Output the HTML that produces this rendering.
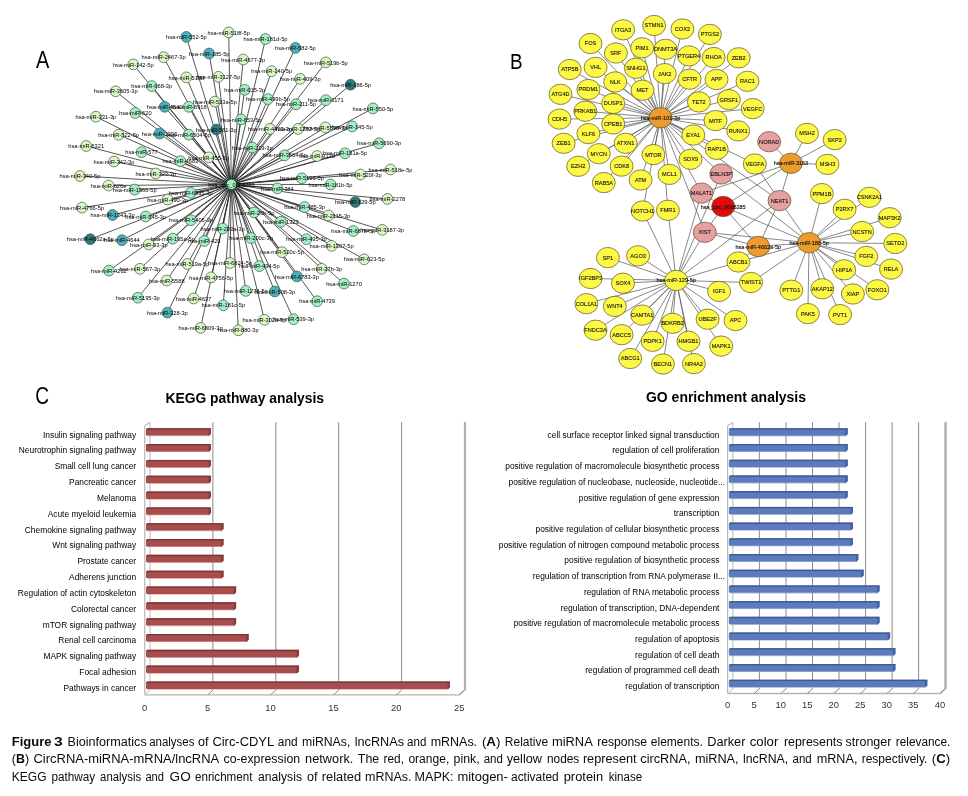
<!DOCTYPE html><html><head><meta charset="utf-8"><title>Figure 3</title><style>
html,body{margin:0;padding:0;background:#fff;width:968px;height:796px;overflow:hidden}
svg{display:block;font-family:"Liberation Sans",sans-serif;will-change:transform}
.ea line{stroke:#2a2a2a;stroke-width:.8}
.na circle{stroke:#3e5646;stroke-width:.7}
.la text{font-size:5.7px;fill:#000;text-anchor:middle}
.eb line{stroke:#555;stroke-width:.7}
.nb ellipse{stroke:#5a5228;stroke-width:.7}
.lb text{font-size:5.6px;fill:#111;stroke:#111;stroke-width:.1;text-anchor:middle}
.hl text{font-size:5.5px;fill:#111;stroke:#111;stroke-width:.12;text-anchor:middle}
.kl text,.gl text{font-size:8.4px;fill:#000;text-anchor:end}
.tk text{font-size:9.4px;fill:#333;text-anchor:middle}
.cap text{font-size:12.3px;fill:#0a0a0a}
</style></head><body>
<svg width="968" height="796" viewBox="0 0 968 796">
<rect width="968" height="796" fill="#fff"/>
<text transform="translate(35.9 68.4) scale(0.845 1)" font-size="23.6" fill="#000">A</text>
<text transform="translate(510.1 69.35) scale(0.825 1)" font-size="22.9" fill="#000">B</text>
<text transform="translate(35.3 404.4) scale(0.82 1)" font-size="23.3" fill="#000">C</text>
<g class="ea">
<line x1="231.4" y1="184.4" x2="186.4" y2="36.9"/>
<line x1="231.4" y1="184.4" x2="228.7" y2="32.4"/>
<line x1="231.4" y1="184.4" x2="209.1" y2="53.5"/>
<line x1="231.4" y1="184.4" x2="163.6" y2="57.2"/>
<line x1="231.4" y1="184.4" x2="133.3" y2="64.4"/>
<line x1="231.4" y1="184.4" x2="243.2" y2="59.5"/>
<line x1="231.4" y1="184.4" x2="186.4" y2="77.4"/>
<line x1="231.4" y1="184.4" x2="218.4" y2="76.8"/>
<line x1="231.4" y1="184.4" x2="151.7" y2="86.1"/>
<line x1="231.4" y1="184.4" x2="115.7" y2="91.3"/>
<line x1="231.4" y1="184.4" x2="244.7" y2="89.8"/>
<line x1="231.4" y1="184.4" x2="214.9" y2="101.6"/>
<line x1="231.4" y1="184.4" x2="164.7" y2="106.8"/>
<line x1="231.4" y1="184.4" x2="188.8" y2="106.8"/>
<line x1="231.4" y1="184.4" x2="135.3" y2="113"/>
<line x1="231.4" y1="184.4" x2="95.9" y2="116.7"/>
<line x1="231.4" y1="184.4" x2="241.1" y2="119.4"/>
<line x1="231.4" y1="184.4" x2="216.3" y2="129.5"/>
<line x1="231.4" y1="184.4" x2="118.6" y2="134.7"/>
<line x1="231.4" y1="184.4" x2="159.5" y2="133.6"/>
<line x1="231.4" y1="184.4" x2="188.8" y2="134.7"/>
<line x1="231.4" y1="184.4" x2="86.2" y2="146"/>
<line x1="231.4" y1="184.4" x2="141.5" y2="152.2"/>
<line x1="231.4" y1="184.4" x2="208.7" y2="157.4"/>
<line x1="231.4" y1="184.4" x2="114" y2="161.5"/>
<line x1="231.4" y1="184.4" x2="180.4" y2="161.2"/>
<line x1="231.4" y1="184.4" x2="80" y2="176"/>
<line x1="231.4" y1="184.4" x2="155.8" y2="173.5"/>
<line x1="231.4" y1="184.4" x2="265.5" y2="39"/>
<line x1="231.4" y1="184.4" x2="295.4" y2="47.9"/>
<line x1="231.4" y1="184.4" x2="325.8" y2="62.4"/>
<line x1="231.4" y1="184.4" x2="271.7" y2="71.2"/>
<line x1="231.4" y1="184.4" x2="300.2" y2="78.9"/>
<line x1="231.4" y1="184.4" x2="350.6" y2="84.7"/>
<line x1="231.4" y1="184.4" x2="267.9" y2="99.1"/>
<line x1="231.4" y1="184.4" x2="296" y2="104.3"/>
<line x1="231.4" y1="184.4" x2="325.8" y2="100.2"/>
<line x1="231.4" y1="184.4" x2="372.9" y2="108.4"/>
<line x1="231.4" y1="184.4" x2="270" y2="128.9"/>
<line x1="231.4" y1="184.4" x2="298.1" y2="128.9"/>
<line x1="231.4" y1="184.4" x2="325.4" y2="127.4"/>
<line x1="231.4" y1="184.4" x2="352.2" y2="126.4"/>
<line x1="231.4" y1="184.4" x2="379.1" y2="143.3"/>
<line x1="231.4" y1="184.4" x2="252.3" y2="147.5"/>
<line x1="231.4" y1="184.4" x2="284.6" y2="155.3"/>
<line x1="231.4" y1="184.4" x2="317.1" y2="156"/>
<line x1="231.4" y1="184.4" x2="345" y2="153.3"/>
<line x1="231.4" y1="184.4" x2="390.5" y2="169.5"/>
<line x1="231.4" y1="184.4" x2="360.5" y2="174.5"/>
<line x1="231.4" y1="184.4" x2="301.9" y2="178.3"/>
<line x1="231.4" y1="184.4" x2="108.5" y2="185.5"/>
<line x1="231.4" y1="184.4" x2="134.7" y2="189.6"/>
<line x1="231.4" y1="184.4" x2="190.8" y2="192.8"/>
<line x1="231.4" y1="184.4" x2="167.6" y2="199.5"/>
<line x1="231.4" y1="184.4" x2="82" y2="207.6"/>
<line x1="231.4" y1="184.4" x2="112.6" y2="215"/>
<line x1="231.4" y1="184.4" x2="145.7" y2="216.5"/>
<line x1="231.4" y1="184.4" x2="191" y2="220.2"/>
<line x1="231.4" y1="184.4" x2="222.6" y2="228.6"/>
<line x1="231.4" y1="184.4" x2="90.3" y2="239.2"/>
<line x1="231.4" y1="184.4" x2="121.9" y2="240.2"/>
<line x1="231.4" y1="184.4" x2="148.8" y2="244.4"/>
<line x1="231.4" y1="184.4" x2="172.9" y2="238.6"/>
<line x1="231.4" y1="184.4" x2="204.2" y2="241"/>
<line x1="231.4" y1="184.4" x2="108.9" y2="270.6"/>
<line x1="231.4" y1="184.4" x2="139.9" y2="268.8"/>
<line x1="231.4" y1="184.4" x2="187.4" y2="264"/>
<line x1="231.4" y1="184.4" x2="230" y2="263"/>
<line x1="231.4" y1="184.4" x2="166.7" y2="280.5"/>
<line x1="231.4" y1="184.4" x2="211.2" y2="277.4"/>
<line x1="231.4" y1="184.4" x2="137.8" y2="297.7"/>
<line x1="231.4" y1="184.4" x2="193.6" y2="298.5"/>
<line x1="231.4" y1="184.4" x2="245.8" y2="290.9"/>
<line x1="231.4" y1="184.4" x2="167.4" y2="312.6"/>
<line x1="231.4" y1="184.4" x2="223.3" y2="305.3"/>
<line x1="231.4" y1="184.4" x2="200.6" y2="327.9"/>
<line x1="231.4" y1="184.4" x2="238.3" y2="330.3"/>
<line x1="231.4" y1="184.4" x2="330.5" y2="184.5"/>
<line x1="231.4" y1="184.4" x2="277.4" y2="188.4"/>
<line x1="231.4" y1="184.4" x2="355.3" y2="202"/>
<line x1="231.4" y1="184.4" x2="387.4" y2="198.9"/>
<line x1="231.4" y1="184.4" x2="304.6" y2="207.1"/>
<line x1="231.4" y1="184.4" x2="328.5" y2="215.5"/>
<line x1="231.4" y1="184.4" x2="254.1" y2="212.4"/>
<line x1="231.4" y1="184.4" x2="280.8" y2="221.8"/>
<line x1="231.4" y1="184.4" x2="353.3" y2="231"/>
<line x1="231.4" y1="184.4" x2="382.2" y2="229.9"/>
<line x1="231.4" y1="184.4" x2="251" y2="238"/>
<line x1="231.4" y1="184.4" x2="306.4" y2="239.2"/>
<line x1="231.4" y1="184.4" x2="331.6" y2="245.8"/>
<line x1="231.4" y1="184.4" x2="282" y2="252.2"/>
<line x1="231.4" y1="184.4" x2="364.2" y2="259.3"/>
<line x1="231.4" y1="184.4" x2="259.3" y2="266.1"/>
<line x1="231.4" y1="184.4" x2="321.7" y2="268.8"/>
<line x1="231.4" y1="184.4" x2="296.9" y2="276.4"/>
<line x1="231.4" y1="184.4" x2="344" y2="283.6"/>
<line x1="231.4" y1="184.4" x2="274.8" y2="291.5"/>
<line x1="231.4" y1="184.4" x2="317.1" y2="301.2"/>
<line x1="231.4" y1="184.4" x2="264.4" y2="319.8"/>
<line x1="231.4" y1="184.4" x2="293.6" y2="319.2"/>
</g>
<g class="na">
<circle cx="186.4" cy="36.9" r="5.4" fill="#4eb0bd"/>
<circle cx="228.7" cy="32.4" r="5.4" fill="#dbf7c5"/>
<circle cx="209.1" cy="53.5" r="5.4" fill="#4eb0bd"/>
<circle cx="163.6" cy="57.2" r="5.4" fill="#dbf7c5"/>
<circle cx="133.3" cy="64.4" r="5.4" fill="#dbf7c5"/>
<circle cx="243.2" cy="59.5" r="5.4" fill="#dbf7c5"/>
<circle cx="186.4" cy="77.4" r="5.4" fill="#dbf7c5"/>
<circle cx="218.4" cy="76.8" r="5.4" fill="#dbf7c5"/>
<circle cx="151.7" cy="86.1" r="5.4" fill="#a4efc3"/>
<circle cx="115.7" cy="91.3" r="5.4" fill="#dbf7c5"/>
<circle cx="244.7" cy="89.8" r="5.4" fill="#a4efc3"/>
<circle cx="214.9" cy="101.6" r="5.4" fill="#dbf7c5"/>
<circle cx="164.7" cy="106.8" r="5.4" fill="#4eb0bd"/>
<circle cx="188.8" cy="106.8" r="5.4" fill="#a4efc3"/>
<circle cx="135.3" cy="113" r="5.4" fill="#a4efc3"/>
<circle cx="95.9" cy="116.7" r="5.4" fill="#dbf7c5"/>
<circle cx="241.1" cy="119.4" r="5.4" fill="#a4efc3"/>
<circle cx="216.3" cy="129.5" r="5.4" fill="#2d797b"/>
<circle cx="118.6" cy="134.7" r="5.4" fill="#dbf7c5"/>
<circle cx="159.5" cy="133.6" r="5.4" fill="#4eb0bd"/>
<circle cx="188.8" cy="134.7" r="5.4" fill="#a4efc3"/>
<circle cx="86.2" cy="146" r="5.4" fill="#dbf7c5"/>
<circle cx="141.5" cy="152.2" r="5.4" fill="#a4efc3"/>
<circle cx="208.7" cy="157.4" r="5.4" fill="#dbf7c5"/>
<circle cx="114" cy="161.5" r="5.4" fill="#dbf7c5"/>
<circle cx="180.4" cy="161.2" r="5.4" fill="#a4efc3"/>
<circle cx="80" cy="176" r="5.4" fill="#dbf7c5"/>
<circle cx="155.8" cy="173.5" r="5.4" fill="#dbf7c5"/>
<circle cx="265.5" cy="39" r="5.4" fill="#a4efc3"/>
<circle cx="295.4" cy="47.9" r="5.4" fill="#4eb0bd"/>
<circle cx="325.8" cy="62.4" r="5.4" fill="#dbf7c5"/>
<circle cx="271.7" cy="71.2" r="5.4" fill="#dbf7c5"/>
<circle cx="300.2" cy="78.9" r="5.4" fill="#dbf7c5"/>
<circle cx="350.6" cy="84.7" r="5.4" fill="#2d797b"/>
<circle cx="267.9" cy="99.1" r="5.4" fill="#a4efc3"/>
<circle cx="296" cy="104.3" r="5.4" fill="#a4efc3"/>
<circle cx="325.8" cy="100.2" r="5.4" fill="#a4efc3"/>
<circle cx="372.9" cy="108.4" r="5.4" fill="#a4efc3"/>
<circle cx="270" cy="128.9" r="5.4" fill="#dbf7c5"/>
<circle cx="298.1" cy="128.9" r="5.4" fill="#dbf7c5"/>
<circle cx="325.4" cy="127.4" r="5.4" fill="#dbf7c5"/>
<circle cx="352.2" cy="126.4" r="5.4" fill="#a4efc3"/>
<circle cx="379.1" cy="143.3" r="5.4" fill="#a4efc3"/>
<circle cx="252.3" cy="147.5" r="5.4" fill="#a4efc3"/>
<circle cx="284.6" cy="155.3" r="5.4" fill="#a4efc3"/>
<circle cx="317.1" cy="156" r="5.4" fill="#dbf7c5"/>
<circle cx="345" cy="153.3" r="5.4" fill="#a4efc3"/>
<circle cx="390.5" cy="169.5" r="5.4" fill="#dbf7c5"/>
<circle cx="360.5" cy="174.5" r="5.4" fill="#dbf7c5"/>
<circle cx="301.9" cy="178.3" r="5.4" fill="#a4efc3"/>
<circle cx="108.5" cy="185.5" r="5.4" fill="#dbf7c5"/>
<circle cx="134.7" cy="189.6" r="5.4" fill="#a4efc3"/>
<circle cx="190.8" cy="192.8" r="5.4" fill="#a4efc3"/>
<circle cx="167.6" cy="199.5" r="5.4" fill="#dbf7c5"/>
<circle cx="82" cy="207.6" r="5.4" fill="#dbf7c5"/>
<circle cx="112.6" cy="215" r="5.4" fill="#4eb0bd"/>
<circle cx="145.7" cy="216.5" r="5.4" fill="#a4efc3"/>
<circle cx="191" cy="220.2" r="5.4" fill="#a4efc3"/>
<circle cx="222.6" cy="228.6" r="5.4" fill="#a4efc3"/>
<circle cx="90.3" cy="239.2" r="5.4" fill="#2d797b"/>
<circle cx="121.9" cy="240.2" r="5.4" fill="#4eb0bd"/>
<circle cx="148.8" cy="244.4" r="5.4" fill="#dbf7c5"/>
<circle cx="172.9" cy="238.6" r="5.4" fill="#a4efc3"/>
<circle cx="204.2" cy="241" r="5.4" fill="#a4efc3"/>
<circle cx="108.9" cy="270.6" r="5.4" fill="#a4efc3"/>
<circle cx="139.9" cy="268.8" r="5.4" fill="#dbf7c5"/>
<circle cx="187.4" cy="264" r="5.4" fill="#dbf7c5"/>
<circle cx="230" cy="263" r="5.4" fill="#dbf7c5"/>
<circle cx="166.7" cy="280.5" r="5.4" fill="#dbf7c5"/>
<circle cx="211.2" cy="277.4" r="5.4" fill="#dbf7c5"/>
<circle cx="137.8" cy="297.7" r="5.4" fill="#a4efc3"/>
<circle cx="193.6" cy="298.5" r="5.4" fill="#dbf7c5"/>
<circle cx="245.8" cy="290.9" r="5.4" fill="#a4efc3"/>
<circle cx="167.4" cy="312.6" r="5.4" fill="#4eb0bd"/>
<circle cx="223.3" cy="305.3" r="5.4" fill="#a4efc3"/>
<circle cx="200.6" cy="327.9" r="5.4" fill="#dbf7c5"/>
<circle cx="238.3" cy="330.3" r="5.4" fill="#dbf7c5"/>
<circle cx="330.5" cy="184.5" r="5.4" fill="#a4efc3"/>
<circle cx="277.4" cy="188.4" r="5.4" fill="#a4efc3"/>
<circle cx="355.3" cy="202" r="5.4" fill="#2d797b"/>
<circle cx="387.4" cy="198.9" r="5.4" fill="#dbf7c5"/>
<circle cx="304.6" cy="207.1" r="5.4" fill="#a4efc3"/>
<circle cx="328.5" cy="215.5" r="5.4" fill="#dbf7c5"/>
<circle cx="254.1" cy="212.4" r="5.4" fill="#a4efc3"/>
<circle cx="280.8" cy="221.8" r="5.4" fill="#a4efc3"/>
<circle cx="353.3" cy="231" r="5.4" fill="#a4efc3"/>
<circle cx="382.2" cy="229.9" r="5.4" fill="#dbf7c5"/>
<circle cx="251" cy="238" r="5.4" fill="#a4efc3"/>
<circle cx="306.4" cy="239.2" r="5.4" fill="#a4efc3"/>
<circle cx="331.6" cy="245.8" r="5.4" fill="#dbf7c5"/>
<circle cx="282" cy="252.2" r="5.4" fill="#dbf7c5"/>
<circle cx="364.2" cy="259.3" r="5.4" fill="#dbf7c5"/>
<circle cx="259.3" cy="266.1" r="5.4" fill="#a4efc3"/>
<circle cx="321.7" cy="268.8" r="5.4" fill="#dbf7c5"/>
<circle cx="296.9" cy="276.4" r="5.4" fill="#4eb0bd"/>
<circle cx="344" cy="283.6" r="5.4" fill="#a4efc3"/>
<circle cx="274.8" cy="291.5" r="5.4" fill="#4eb0bd"/>
<circle cx="317.1" cy="301.2" r="5.4" fill="#a4efc3"/>
<circle cx="264.4" cy="319.8" r="5.4" fill="#dbf7c5"/>
<circle cx="293.6" cy="319.2" r="5.4" fill="#a4efc3"/>
<circle cx="231.4" cy="184.4" r="5.4" fill="#a4efc3" style="stroke:#1d5a30;stroke-width:1.1"/>
</g>
<g class="la">
<text x="186.4" y="39">hsa-miR-552-5p</text>
<text x="228.7" y="34.5">hsa-miR-518f-5p</text>
<text x="209.1" y="55.6">hsa-miR-185-5p</text>
<text x="163.6" y="59.3">hsa-miR-2467-3p</text>
<text x="133.3" y="66.5">hsa-miR-142-5p</text>
<text x="243.2" y="61.6">hsa-miR-4677-3p</text>
<text x="186.4" y="79.5">hsa-miR-5188</text>
<text x="218.4" y="78.9">hsa-miR-3127-5p</text>
<text x="151.7" y="88.2">hsa-miR-668-3p</text>
<text x="115.7" y="93.4">hsa-miR-3605-3p</text>
<text x="244.7" y="91.9">hsa-miR-615-3p</text>
<text x="214.9" y="103.7">hsa-miR-513a-5p</text>
<text x="164.7" y="108.9">hsa-miR-4540</text>
<text x="188.8" y="108.9">hsa-miR-6918</text>
<text x="135.3" y="115.1">hsa-miR-620</text>
<text x="95.9" y="118.8">hsa-miR-331-3p</text>
<text x="241.1" y="121.5">hsa-miR-653-5p</text>
<text x="216.3" y="131.6">hsa-miR-561-3p</text>
<text x="118.6" y="136.8">hsa-miR-522-5p</text>
<text x="159.5" y="135.7">hsa-miR-1296</text>
<text x="188.8" y="136.8">hsa-miR-6504-5p</text>
<text x="86.2" y="148.1">hsa-miR-6321</text>
<text x="141.5" y="154.3">hsa-miR-577</text>
<text x="208.7" y="159.5">hsa-miR-455-5p</text>
<text x="114" y="163.6">hsa-miR-342-3p</text>
<text x="180.4" y="163.3">hsa-miR-4683</text>
<text x="80" y="178.1">hsa-miR-340-5p</text>
<text x="155.8" y="175.6">hsa-miR-323-3p</text>
<text x="265.5" y="41.1">hsa-miR-181d-5p</text>
<text x="295.4" y="50">hsa-miR-582-5p</text>
<text x="325.8" y="64.5">hsa-miR-519b-5p</text>
<text x="271.7" y="73.3">hsa-miR-140-5p</text>
<text x="300.2" y="81">hsa-miR-409-3p</text>
<text x="350.6" y="86.8">hsa-miR-186-5p</text>
<text x="267.9" y="101.2">hsa-miR-499b-5p</text>
<text x="296" y="106.4">hsa-miR-211-5p</text>
<text x="325.8" y="102.3">hsa-miR-3171</text>
<text x="372.9" y="110.5">hsa-miR-550-5p</text>
<text x="270" y="131">hsa-miR-4423-3p</text>
<text x="298.1" y="131">hsa-miR-1252-5p</text>
<text x="325.4" y="129.5">hsa-miR-5590-3p</text>
<text x="352.2" y="128.5">hsa-miR-145-5p</text>
<text x="379.1" y="145.4">hsa-miR-5690-3p</text>
<text x="252.3" y="149.6">hsa-miR-219-3p</text>
<text x="284.6" y="157.4">hsa-miR-3664-5p</text>
<text x="317.1" y="158.1">hsa-miR-3120</text>
<text x="345" y="155.4">hsa-miR-181a-5p</text>
<text x="390.5" y="171.6">hsa-miR-518e-5p</text>
<text x="360.5" y="176.6">hsa-miR-520f-3p</text>
<text x="301.9" y="180.4">hsa-miR-5196-5p</text>
<text x="108.5" y="187.6">hsa-miR-626e</text>
<text x="134.7" y="191.7">hsa-miR-1966-5p</text>
<text x="190.8" y="194.9">hsa-miR-6835-3p</text>
<text x="167.6" y="201.6">hsa-miR-490-3p</text>
<text x="82" y="209.7">hsa-miR-4766-5p</text>
<text x="112.6" y="217.1">hsa-miR-1343-3p</text>
<text x="145.7" y="218.6">hsa-miR-545-3p</text>
<text x="191" y="222.3">hsa-miR-5406-3p</text>
<text x="222.6" y="230.7">hsa-miR-203a-3p</text>
<text x="90.3" y="241.3">hsa-miR-4662a-5p</text>
<text x="121.9" y="242.3">hsa-miR-4644</text>
<text x="148.8" y="246.5">hsa-miR-93-3p</text>
<text x="172.9" y="240.7">hsa-miR-195a-5p</text>
<text x="204.2" y="243.1">hsa-miR-429</text>
<text x="108.9" y="272.7">hsa-miR-4262</text>
<text x="139.9" y="270.9">hsa-miR-567-3p</text>
<text x="187.4" y="266.1">hsa-miR-519a-5p</text>
<text x="230" y="265.1">hsa-miR-6824-5p</text>
<text x="166.7" y="282.6">hsa-miR-5588</text>
<text x="211.2" y="279.5">hsa-miR-4756-5p</text>
<text x="137.8" y="299.8">hsa-miR-5195-3p</text>
<text x="193.6" y="300.6">hsa-miR-4637</text>
<text x="245.8" y="293">hsa-miR-1278-5p</text>
<text x="167.4" y="314.7">hsa-miR-328-3p</text>
<text x="223.3" y="307.4">hsa-miR-181c-5p</text>
<text x="200.6" y="330">hsa-miR-6809-3p</text>
<text x="238.3" y="332.4">hsa-miR-880-3p</text>
<text x="330.5" y="186.6">hsa-miR-181b-5p</text>
<text x="277.4" y="190.5">hsa-miR-384</text>
<text x="355.3" y="204.1">hsa-miR-129-5p</text>
<text x="387.4" y="201">hsa-miR-2278</text>
<text x="304.6" y="209.2">hsa-miR-485-3p</text>
<text x="328.5" y="217.6">hsa-miR-2115-3p</text>
<text x="254.1" y="214.5">hsa-miR-26b-5p</text>
<text x="280.8" y="223.9">hsa-miR-1323</text>
<text x="353.3" y="233.1">hsa-miR-6878-5p</text>
<text x="382.2" y="232">hsa-miR-3187-3p</text>
<text x="251" y="240.1">hsa-miR-200c-3p</text>
<text x="306.4" y="241.3">hsa-miR-495-3p</text>
<text x="331.6" y="247.9">hsa-miR-1307-5p</text>
<text x="282" y="254.3">hsa-miR-520c-5p</text>
<text x="364.2" y="261.4">hsa-miR-623-5p</text>
<text x="259.3" y="268.2">hsa-miR-494-5p</text>
<text x="321.7" y="270.9">hsa-miR-27b-3p</text>
<text x="296.9" y="278.5">hsa-miR-6783-3p</text>
<text x="344" y="285.7">hsa-miR-1270</text>
<text x="274.8" y="293.6">hsa-miR-508-3p</text>
<text x="317.1" y="303.3">hsa-miR-4739</text>
<text x="264.4" y="321.9">hsa-miR-302a-3p</text>
<text x="293.6" y="321.3">hsa-miR-539-3p</text>
<text x="231.4" y="186.5">hsa_circ_0008285</text>
</g>
<g class="eb">
<line x1="660.5" y1="117.8" x2="623.1" y2="29.8"/>
<line x1="660.5" y1="117.8" x2="654.1" y2="25.5"/>
<line x1="660.5" y1="117.8" x2="682.4" y2="29"/>
<line x1="660.5" y1="117.8" x2="709.9" y2="34.4"/>
<line x1="660.5" y1="117.8" x2="590.5" y2="43.5"/>
<line x1="660.5" y1="117.8" x2="615.9" y2="53"/>
<line x1="660.5" y1="117.8" x2="642.1" y2="47.8"/>
<line x1="660.5" y1="117.8" x2="665.5" y2="49.3"/>
<line x1="660.5" y1="117.8" x2="689" y2="55.9"/>
<line x1="660.5" y1="117.8" x2="713.7" y2="57.5"/>
<line x1="660.5" y1="117.8" x2="738.7" y2="57.8"/>
<line x1="660.5" y1="117.8" x2="569.8" y2="69.5"/>
<line x1="660.5" y1="117.8" x2="595.6" y2="67.4"/>
<line x1="660.5" y1="117.8" x2="635.9" y2="68.3"/>
<line x1="660.5" y1="117.8" x2="664.8" y2="73.6"/>
<line x1="660.5" y1="117.8" x2="689.6" y2="79.2"/>
<line x1="660.5" y1="117.8" x2="716.5" y2="79.5"/>
<line x1="660.5" y1="117.8" x2="747.5" y2="81.3"/>
<line x1="660.5" y1="117.8" x2="615.2" y2="81.9"/>
<line x1="660.5" y1="117.8" x2="642.5" y2="90.2"/>
<line x1="660.5" y1="117.8" x2="560.5" y2="94.3"/>
<line x1="660.5" y1="117.8" x2="588.4" y2="89.5"/>
<line x1="660.5" y1="117.8" x2="613.2" y2="103.4"/>
<line x1="660.5" y1="117.8" x2="698.9" y2="101.9"/>
<line x1="660.5" y1="117.8" x2="728.9" y2="99.6"/>
<line x1="660.5" y1="117.8" x2="752.7" y2="108.6"/>
<line x1="660.5" y1="117.8" x2="585.3" y2="111.2"/>
<line x1="660.5" y1="117.8" x2="559.5" y2="119.1"/>
<line x1="660.5" y1="117.8" x2="613.2" y2="124"/>
<line x1="660.5" y1="117.8" x2="715.5" y2="120.6"/>
<line x1="660.5" y1="117.8" x2="738.2" y2="130.9"/>
<line x1="660.5" y1="117.8" x2="588.4" y2="133.6"/>
<line x1="660.5" y1="117.8" x2="563.6" y2="143.3"/>
<line x1="660.5" y1="117.8" x2="625.6" y2="143.3"/>
<line x1="660.5" y1="117.8" x2="693.3" y2="135"/>
<line x1="660.5" y1="117.8" x2="716.7" y2="149.3"/>
<line x1="660.5" y1="117.8" x2="598.8" y2="153.7"/>
<line x1="660.5" y1="117.8" x2="653.4" y2="154.6"/>
<line x1="660.5" y1="117.8" x2="690.6" y2="159.3"/>
<line x1="660.5" y1="117.8" x2="578.2" y2="166.3"/>
<line x1="660.5" y1="117.8" x2="621.6" y2="166.1"/>
<line x1="660.5" y1="117.8" x2="603.8" y2="182.6"/>
<line x1="660.5" y1="117.8" x2="640.6" y2="180"/>
<line x1="660.5" y1="117.8" x2="669.5" y2="174.4"/>
<line x1="660.5" y1="117.8" x2="642.6" y2="211"/>
<line x1="660.5" y1="117.8" x2="667.9" y2="210.3"/>
<line x1="660.5" y1="117.8" x2="701.5" y2="193.1"/>
<line x1="660.5" y1="117.8" x2="704.8" y2="232.3"/>
<line x1="660.5" y1="117.8" x2="721.3" y2="174"/>
<line x1="660.5" y1="117.8" x2="779.5" y2="200.6"/>
<line x1="660.5" y1="117.8" x2="754.8" y2="164"/>
<line x1="676.2" y1="280.4" x2="607.9" y2="257.6"/>
<line x1="676.2" y1="280.4" x2="638.1" y2="255.8"/>
<line x1="676.2" y1="280.4" x2="590.6" y2="278.5"/>
<line x1="676.2" y1="280.4" x2="623" y2="283.2"/>
<line x1="676.2" y1="280.4" x2="586.4" y2="303.7"/>
<line x1="676.2" y1="280.4" x2="614.8" y2="306.4"/>
<line x1="676.2" y1="280.4" x2="642.2" y2="315.1"/>
<line x1="676.2" y1="280.4" x2="595.5" y2="330.2"/>
<line x1="676.2" y1="280.4" x2="621.6" y2="334.7"/>
<line x1="676.2" y1="280.4" x2="652.6" y2="341.3"/>
<line x1="676.2" y1="280.4" x2="672.6" y2="323.3"/>
<line x1="676.2" y1="280.4" x2="688.5" y2="341.3"/>
<line x1="676.2" y1="280.4" x2="662.9" y2="364"/>
<line x1="676.2" y1="280.4" x2="693.9" y2="363.6"/>
<line x1="676.2" y1="280.4" x2="630.2" y2="358.5"/>
<line x1="676.2" y1="280.4" x2="707.6" y2="319.2"/>
<line x1="676.2" y1="280.4" x2="735.5" y2="320.5"/>
<line x1="676.2" y1="280.4" x2="721.2" y2="346.1"/>
<line x1="676.2" y1="280.4" x2="719.1" y2="291.4"/>
<line x1="676.2" y1="280.4" x2="751" y2="282.5"/>
<line x1="676.2" y1="280.4" x2="738.4" y2="262"/>
<line x1="676.2" y1="280.4" x2="642.6" y2="211"/>
<line x1="676.2" y1="280.4" x2="667.9" y2="210.3"/>
<line x1="676.2" y1="280.4" x2="704.8" y2="232.3"/>
<line x1="676.2" y1="280.4" x2="701.5" y2="193.1"/>
<line x1="676.2" y1="280.4" x2="779.5" y2="200.6"/>
<line x1="676.2" y1="280.4" x2="721.3" y2="174"/>
<line x1="809.1" y1="242.7" x2="821.9" y2="193.6"/>
<line x1="809.1" y1="242.7" x2="869.4" y2="197.3"/>
<line x1="809.1" y1="242.7" x2="844.6" y2="209.3"/>
<line x1="809.1" y1="242.7" x2="889.7" y2="217.7"/>
<line x1="809.1" y1="242.7" x2="862.2" y2="231.6"/>
<line x1="809.1" y1="242.7" x2="895.3" y2="243.5"/>
<line x1="809.1" y1="242.7" x2="866.3" y2="256.4"/>
<line x1="809.1" y1="242.7" x2="891" y2="269.1"/>
<line x1="809.1" y1="242.7" x2="844.2" y2="269.8"/>
<line x1="809.1" y1="242.7" x2="877.3" y2="289.8"/>
<line x1="809.1" y1="242.7" x2="852.9" y2="294"/>
<line x1="809.1" y1="242.7" x2="840.1" y2="314.6"/>
<line x1="809.1" y1="242.7" x2="807.9" y2="313.6"/>
<line x1="809.1" y1="242.7" x2="822.3" y2="288.8"/>
<line x1="809.1" y1="242.7" x2="791.3" y2="290.2"/>
<line x1="809.1" y1="242.7" x2="751" y2="282.5"/>
<line x1="809.1" y1="242.7" x2="738.4" y2="262"/>
<line x1="809.1" y1="242.7" x2="779.5" y2="200.6"/>
<line x1="809.1" y1="242.7" x2="704.8" y2="232.3"/>
<line x1="809.1" y1="242.7" x2="723.2" y2="206.5"/>
<line x1="809.1" y1="242.7" x2="721.3" y2="174"/>
<line x1="809.1" y1="242.7" x2="758.3" y2="246.5"/>
<line x1="790.9" y1="163.3" x2="807" y2="133.4"/>
<line x1="790.9" y1="163.3" x2="834.7" y2="139.6"/>
<line x1="790.9" y1="163.3" x2="827.5" y2="164.4"/>
<line x1="790.9" y1="163.3" x2="769.2" y2="141.7"/>
<line x1="790.9" y1="163.3" x2="779.5" y2="200.6"/>
<line x1="790.9" y1="163.3" x2="701.5" y2="193.1"/>
<line x1="790.9" y1="163.3" x2="723.2" y2="206.5"/>
<line x1="758.3" y1="246.5" x2="704.8" y2="232.3"/>
<line x1="758.3" y1="246.5" x2="723.2" y2="206.5"/>
<line x1="758.3" y1="246.5" x2="779.5" y2="200.6"/>
<line x1="758.3" y1="246.5" x2="738.4" y2="262"/>
<line x1="723.2" y1="206.5" x2="701.5" y2="193.1"/>
<line x1="723.2" y1="206.5" x2="704.8" y2="232.3"/>
<line x1="754.8" y1="164" x2="779.5" y2="200.6"/>
</g>
<g class="nb">
<ellipse cx="623.1" cy="29.8" rx="11.5" ry="10.15" fill="#fdf843" stroke="#5a5228"/>
<ellipse cx="654.1" cy="25.5" rx="11.5" ry="10.15" fill="#fdf843" stroke="#5a5228"/>
<ellipse cx="682.4" cy="29" rx="11.5" ry="10.15" fill="#fdf843" stroke="#5a5228"/>
<ellipse cx="709.9" cy="34.4" rx="11.5" ry="10.15" fill="#fdf843" stroke="#5a5228"/>
<ellipse cx="590.5" cy="43.5" rx="11.5" ry="10.15" fill="#fdf843" stroke="#5a5228"/>
<ellipse cx="615.9" cy="53" rx="11.5" ry="10.15" fill="#fdf843" stroke="#5a5228"/>
<ellipse cx="642.1" cy="47.8" rx="11.5" ry="10.15" fill="#fdf843" stroke="#5a5228"/>
<ellipse cx="665.5" cy="49.3" rx="11.5" ry="10.15" fill="#fdf843" stroke="#5a5228"/>
<ellipse cx="689" cy="55.9" rx="11.5" ry="10.15" fill="#fdf843" stroke="#5a5228"/>
<ellipse cx="713.7" cy="57.5" rx="11.5" ry="10.15" fill="#fdf843" stroke="#5a5228"/>
<ellipse cx="738.7" cy="57.8" rx="11.5" ry="10.15" fill="#fdf843" stroke="#5a5228"/>
<ellipse cx="569.8" cy="69.5" rx="11.5" ry="10.15" fill="#fdf843" stroke="#5a5228"/>
<ellipse cx="595.6" cy="67.4" rx="11.5" ry="10.15" fill="#fdf843" stroke="#5a5228"/>
<ellipse cx="635.9" cy="68.3" rx="11.5" ry="10.15" fill="#fdf843" stroke="#5a5228"/>
<ellipse cx="664.8" cy="73.6" rx="11.5" ry="10.15" fill="#fdf843" stroke="#5a5228"/>
<ellipse cx="689.6" cy="79.2" rx="11.5" ry="10.15" fill="#fdf843" stroke="#5a5228"/>
<ellipse cx="716.5" cy="79.5" rx="11.5" ry="10.15" fill="#fdf843" stroke="#5a5228"/>
<ellipse cx="747.5" cy="81.3" rx="11.5" ry="10.15" fill="#fdf843" stroke="#5a5228"/>
<ellipse cx="615.2" cy="81.9" rx="11.5" ry="10.15" fill="#fdf843" stroke="#5a5228"/>
<ellipse cx="642.5" cy="90.2" rx="11.5" ry="10.15" fill="#fdf843" stroke="#5a5228"/>
<ellipse cx="560.5" cy="94.3" rx="11.5" ry="10.15" fill="#fdf843" stroke="#5a5228"/>
<ellipse cx="588.4" cy="89.5" rx="11.5" ry="10.15" fill="#fdf843" stroke="#5a5228"/>
<ellipse cx="613.2" cy="103.4" rx="11.5" ry="10.15" fill="#fdf843" stroke="#5a5228"/>
<ellipse cx="698.9" cy="101.9" rx="11.5" ry="10.15" fill="#fdf843" stroke="#5a5228"/>
<ellipse cx="728.9" cy="99.6" rx="11.5" ry="10.15" fill="#fdf843" stroke="#5a5228"/>
<ellipse cx="752.7" cy="108.6" rx="11.5" ry="10.15" fill="#fdf843" stroke="#5a5228"/>
<ellipse cx="585.3" cy="111.2" rx="11.5" ry="10.15" fill="#fdf843" stroke="#5a5228"/>
<ellipse cx="559.5" cy="119.1" rx="11.5" ry="10.15" fill="#fdf843" stroke="#5a5228"/>
<ellipse cx="660.5" cy="117.8" rx="11.5" ry="10.15" fill="#ec9b2d" stroke="#7a4a14"/>
<ellipse cx="613.2" cy="124" rx="11.5" ry="10.15" fill="#fdf843" stroke="#5a5228"/>
<ellipse cx="715.5" cy="120.6" rx="11.5" ry="10.15" fill="#fdf843" stroke="#5a5228"/>
<ellipse cx="588.4" cy="133.6" rx="11.5" ry="10.15" fill="#fdf843" stroke="#5a5228"/>
<ellipse cx="563.6" cy="143.3" rx="11.5" ry="10.15" fill="#fdf843" stroke="#5a5228"/>
<ellipse cx="625.6" cy="143.3" rx="11.5" ry="10.15" fill="#fdf843" stroke="#5a5228"/>
<ellipse cx="693.3" cy="135" rx="11.5" ry="10.15" fill="#fdf843" stroke="#5a5228"/>
<ellipse cx="738.2" cy="130.9" rx="11.5" ry="10.15" fill="#fdf843" stroke="#5a5228"/>
<ellipse cx="716.7" cy="149.3" rx="11.5" ry="10.15" fill="#fdf843" stroke="#5a5228"/>
<ellipse cx="598.8" cy="153.7" rx="11.5" ry="10.15" fill="#fdf843" stroke="#5a5228"/>
<ellipse cx="653.4" cy="154.6" rx="11.5" ry="10.15" fill="#fdf843" stroke="#5a5228"/>
<ellipse cx="690.6" cy="159.3" rx="11.5" ry="10.15" fill="#fdf843" stroke="#5a5228"/>
<ellipse cx="578.2" cy="166.3" rx="11.5" ry="10.15" fill="#fdf843" stroke="#5a5228"/>
<ellipse cx="621.6" cy="166.1" rx="11.5" ry="10.15" fill="#fdf843" stroke="#5a5228"/>
<ellipse cx="669.5" cy="174.4" rx="11.5" ry="10.15" fill="#fdf843" stroke="#5a5228"/>
<ellipse cx="603.8" cy="182.6" rx="11.5" ry="10.15" fill="#fdf843" stroke="#5a5228"/>
<ellipse cx="640.6" cy="180" rx="11.5" ry="10.15" fill="#fdf843" stroke="#5a5228"/>
<ellipse cx="642.6" cy="211" rx="11.5" ry="10.15" fill="#fdf843" stroke="#5a5228"/>
<ellipse cx="667.9" cy="210.3" rx="11.5" ry="10.15" fill="#fdf843" stroke="#5a5228"/>
<ellipse cx="769.2" cy="141.7" rx="11.5" ry="10.15" fill="#e6a0a2" stroke="#7a4a4a"/>
<ellipse cx="807" cy="133.4" rx="11.5" ry="10.15" fill="#fdf843" stroke="#5a5228"/>
<ellipse cx="834.7" cy="139.6" rx="11.5" ry="10.15" fill="#fdf843" stroke="#5a5228"/>
<ellipse cx="754.8" cy="164" rx="11.5" ry="10.15" fill="#fdf843" stroke="#5a5228"/>
<ellipse cx="790.9" cy="163.3" rx="11.5" ry="10.15" fill="#ec9b2d" stroke="#7a4a14"/>
<ellipse cx="827.5" cy="164.4" rx="11.5" ry="10.15" fill="#fdf843" stroke="#5a5228"/>
<ellipse cx="721.3" cy="174" rx="11.5" ry="10.15" fill="#e6a0a2" stroke="#7a4a4a"/>
<ellipse cx="701.5" cy="193.1" rx="11.5" ry="10.15" fill="#e6a0a2" stroke="#7a4a4a"/>
<ellipse cx="723.2" cy="206.5" rx="11.5" ry="10.15" fill="#e00b0b" stroke="#6a0a0a"/>
<ellipse cx="779.5" cy="200.6" rx="11.5" ry="10.15" fill="#e6a0a2" stroke="#7a4a4a"/>
<ellipse cx="704.8" cy="232.3" rx="11.5" ry="10.15" fill="#e6a0a2" stroke="#7a4a4a"/>
<ellipse cx="821.9" cy="193.6" rx="11.5" ry="10.15" fill="#fdf843" stroke="#5a5228"/>
<ellipse cx="869.4" cy="197.3" rx="11.5" ry="10.15" fill="#fdf843" stroke="#5a5228"/>
<ellipse cx="844.6" cy="209.3" rx="11.5" ry="10.15" fill="#fdf843" stroke="#5a5228"/>
<ellipse cx="889.7" cy="217.7" rx="11.5" ry="10.15" fill="#fdf843" stroke="#5a5228"/>
<ellipse cx="862.2" cy="231.6" rx="11.5" ry="10.15" fill="#fdf843" stroke="#5a5228"/>
<ellipse cx="809.1" cy="242.7" rx="11.5" ry="10.15" fill="#ec9b2d" stroke="#7a4a14"/>
<ellipse cx="895.3" cy="243.5" rx="11.5" ry="10.15" fill="#fdf843" stroke="#5a5228"/>
<ellipse cx="758.3" cy="246.5" rx="11.5" ry="10.15" fill="#ec9b2d" stroke="#7a4a14"/>
<ellipse cx="866.3" cy="256.4" rx="11.5" ry="10.15" fill="#fdf843" stroke="#5a5228"/>
<ellipse cx="738.4" cy="262" rx="11.5" ry="10.15" fill="#fdf843" stroke="#5a5228"/>
<ellipse cx="891" cy="269.1" rx="11.5" ry="10.15" fill="#fdf843" stroke="#5a5228"/>
<ellipse cx="844.2" cy="269.8" rx="11.5" ry="10.15" fill="#fdf843" stroke="#5a5228"/>
<ellipse cx="751" cy="282.5" rx="11.5" ry="10.15" fill="#fdf843" stroke="#5a5228"/>
<ellipse cx="719.1" cy="291.4" rx="11.5" ry="10.15" fill="#fdf843" stroke="#5a5228"/>
<ellipse cx="791.3" cy="290.2" rx="11.5" ry="10.15" fill="#fdf843" stroke="#5a5228"/>
<ellipse cx="822.3" cy="288.8" rx="11.5" ry="10.15" fill="#fdf843" stroke="#5a5228"/>
<ellipse cx="852.9" cy="294" rx="11.5" ry="10.15" fill="#fdf843" stroke="#5a5228"/>
<ellipse cx="877.3" cy="289.8" rx="11.5" ry="10.15" fill="#fdf843" stroke="#5a5228"/>
<ellipse cx="807.9" cy="313.6" rx="11.5" ry="10.15" fill="#fdf843" stroke="#5a5228"/>
<ellipse cx="840.1" cy="314.6" rx="11.5" ry="10.15" fill="#fdf843" stroke="#5a5228"/>
<ellipse cx="707.6" cy="319.2" rx="11.5" ry="10.15" fill="#fdf843" stroke="#5a5228"/>
<ellipse cx="735.5" cy="320.5" rx="11.5" ry="10.15" fill="#fdf843" stroke="#5a5228"/>
<ellipse cx="607.9" cy="257.6" rx="11.5" ry="10.15" fill="#fdf843" stroke="#5a5228"/>
<ellipse cx="638.1" cy="255.8" rx="11.5" ry="10.15" fill="#fdf843" stroke="#5a5228"/>
<ellipse cx="590.6" cy="278.5" rx="11.5" ry="10.15" fill="#fdf843" stroke="#5a5228"/>
<ellipse cx="623" cy="283.2" rx="11.5" ry="10.15" fill="#fdf843" stroke="#5a5228"/>
<ellipse cx="676.2" cy="280.4" rx="11.5" ry="10.15" fill="#fdf843" stroke="#5a5228"/>
<ellipse cx="586.4" cy="303.7" rx="11.5" ry="10.15" fill="#fdf843" stroke="#5a5228"/>
<ellipse cx="614.8" cy="306.4" rx="11.5" ry="10.15" fill="#fdf843" stroke="#5a5228"/>
<ellipse cx="642.2" cy="315.1" rx="11.5" ry="10.15" fill="#fdf843" stroke="#5a5228"/>
<ellipse cx="672.6" cy="323.3" rx="11.5" ry="10.15" fill="#fdf843" stroke="#5a5228"/>
<ellipse cx="595.5" cy="330.2" rx="11.5" ry="10.15" fill="#fdf843" stroke="#5a5228"/>
<ellipse cx="621.6" cy="334.7" rx="11.5" ry="10.15" fill="#fdf843" stroke="#5a5228"/>
<ellipse cx="652.6" cy="341.3" rx="11.5" ry="10.15" fill="#fdf843" stroke="#5a5228"/>
<ellipse cx="688.5" cy="341.3" rx="11.5" ry="10.15" fill="#fdf843" stroke="#5a5228"/>
<ellipse cx="721.2" cy="346.1" rx="11.5" ry="10.15" fill="#fdf843" stroke="#5a5228"/>
<ellipse cx="630.2" cy="358.5" rx="11.5" ry="10.15" fill="#fdf843" stroke="#5a5228"/>
<ellipse cx="662.9" cy="364" rx="11.5" ry="10.15" fill="#fdf843" stroke="#5a5228"/>
<ellipse cx="693.9" cy="363.6" rx="11.5" ry="10.15" fill="#fdf843" stroke="#5a5228"/>
</g>
<g class="lb">
<text x="623.1" y="31.7">ITGA3</text>
<text x="654.1" y="27.4">STMN1</text>
<text x="682.4" y="30.9">COX2</text>
<text x="709.9" y="36.3">PTGS2</text>
<text x="590.5" y="45.4">FOS</text>
<text x="615.9" y="54.9">SRF</text>
<text x="642.1" y="49.7">PIM1</text>
<text x="665.5" y="51.2">DNMT3A</text>
<text x="689" y="57.8">PTGER4</text>
<text x="713.7" y="59.4">RHOA</text>
<text x="738.7" y="59.7">ZEB2</text>
<text x="569.8" y="71.4">ATP5B</text>
<text x="595.6" y="69.3">VHL</text>
<text x="635.9" y="70.2">SNHG1</text>
<text x="664.8" y="75.5">JAK2</text>
<text x="689.6" y="81.1">CFTR</text>
<text x="716.5" y="81.4">APP</text>
<text x="747.5" y="83.2">RAC1</text>
<text x="615.2" y="83.8">NLK</text>
<text x="642.5" y="92.1">MET</text>
<text x="560.5" y="96.2">ATG4D</text>
<text x="588.4" y="91.4">PRDM1</text>
<text x="613.2" y="105.3">DUSP1</text>
<text x="698.9" y="103.8">TET2</text>
<text x="728.9" y="101.5">GRSF1</text>
<text x="752.7" y="110.5">VEGFC</text>
<text x="585.3" y="113.1">PRKAB1</text>
<text x="559.5" y="121">CDH5</text>
<text x="613.2" y="125.9">CPEB1</text>
<text x="715.5" y="122.5">MITF</text>
<text x="588.4" y="135.5">KLF6</text>
<text x="563.6" y="145.2">ZEB1</text>
<text x="625.6" y="145.2">ATXN1</text>
<text x="693.3" y="136.9">EYA1</text>
<text x="738.2" y="132.8">RUNX1</text>
<text x="716.7" y="151.2">RAP1B</text>
<text x="598.8" y="155.6">MYCN</text>
<text x="653.4" y="156.5">MTOR</text>
<text x="690.6" y="161.2">SOX9</text>
<text x="578.2" y="168.2">EZH2</text>
<text x="621.6" y="168">CDK8</text>
<text x="669.5" y="176.3">MCL1</text>
<text x="603.8" y="184.5">RAB5A</text>
<text x="640.6" y="181.9">ATM</text>
<text x="642.6" y="212.9">NOTCH1</text>
<text x="667.9" y="212.2">FMR1</text>
<text x="769.2" y="143.6">NORAD</text>
<text x="807" y="135.3">MSH2</text>
<text x="834.7" y="141.5">SKP2</text>
<text x="754.8" y="165.9">VEGFA</text>
<text x="827.5" y="166.3">MSH3</text>
<text x="721.3" y="175.9">EBLN3P</text>
<text x="701.5" y="195">MALAT1</text>
<text x="779.5" y="202.5">NEAT1</text>
<text x="704.8" y="234.2">XIST</text>
<text x="821.9" y="195.5">PPM1B</text>
<text x="869.4" y="199.2">CSNK2A1</text>
<text x="844.6" y="211.2">P2RX7</text>
<text x="889.7" y="219.6">MAP3K2</text>
<text x="862.2" y="233.5">NCSTN</text>
<text x="895.3" y="245.4">SETD2</text>
<text x="866.3" y="258.3">FGF2</text>
<text x="738.4" y="263.9">ABCB1</text>
<text x="891" y="271">RELA</text>
<text x="844.2" y="271.7">HIP1A</text>
<text x="751" y="284.4">TWIST1</text>
<text x="719.1" y="293.3">IGF1</text>
<text x="791.3" y="292.1">PTTG1</text>
<text x="822.3" y="290.7">AKAP12</text>
<text x="852.9" y="295.9">XIAP</text>
<text x="877.3" y="291.7">FOXO1</text>
<text x="807.9" y="315.5">PAK5</text>
<text x="840.1" y="316.5">PVT1</text>
<text x="707.6" y="321.1">UBE2F</text>
<text x="735.5" y="322.4">APC</text>
<text x="607.9" y="259.5">SP1</text>
<text x="638.1" y="257.7">AGO3</text>
<text x="590.6" y="280.4">IGF2BP3</text>
<text x="623" y="285.1">SOX4</text>
<text x="586.4" y="305.6">COL1A1</text>
<text x="614.8" y="308.3">WNT4</text>
<text x="642.2" y="317">CAMTA1</text>
<text x="672.6" y="325.2">BDKRB2</text>
<text x="595.5" y="332.1">FNDC3A</text>
<text x="621.6" y="336.6">ABCC5</text>
<text x="652.6" y="343.2">PDPK1</text>
<text x="688.5" y="343.2">HMGB1</text>
<text x="721.2" y="348">MAPK1</text>
<text x="630.2" y="360.4">ABCG1</text>
<text x="662.9" y="365.9">BECN1</text>
<text x="693.9" y="365.5">NR4A2</text>
</g>
<g class="hl">
<text x="660.5" y="119.8">hsa-miR-101-3p</text>
<text x="790.9" y="165.3">hsa-miR-3163</text>
<text x="723.2" y="208.5">hsa_circ_0008285</text>
<text x="809.1" y="244.7">hsa-miR-186-5p</text>
<text x="758.3" y="248.5">hsa-miR-4662a-5p</text>
<text x="676.2" y="282.4">hsa-miR-129-5p</text>
</g>
<g fill="none" stroke-linecap="butt">
<path d="M144.8 694.8 L144.8 425.7 L150 422.3" stroke="#a8a8a8" stroke-width="1"/>
<path d="M150 422.3 L150 690.2 L144.8 694.8" stroke="#b8b8b8" stroke-width="1"/>
<path d="M144.8 694.8 L459.3 694.8 L464.5 690.2" stroke="#b4b4b4" stroke-width="1.3"/>
<path d="M212.9 422.3 L212.9 690.2 L207.7 694.8" stroke="#8a8a8a" stroke-width="1"/>
<path d="M275.8 422.3 L275.8 690.2 L270.6 694.8" stroke="#8a8a8a" stroke-width="1"/>
<path d="M338.7 422.3 L338.7 690.2 L333.5 694.8" stroke="#8a8a8a" stroke-width="1"/>
<path d="M401.6 422.3 L401.6 690.2 L396.4 694.8" stroke="#8a8a8a" stroke-width="1"/>
<path d="M464.5 422.3 L464.5 690.2 L459.3 694.8" stroke="#8a8a8a" stroke-width="1"/>
<line x1="465" y1="422.3" x2="465" y2="690.2" stroke="#b0b0b0" stroke-width="2.2"/>
</g>
<g>
<rect x="147" y="435.5" width="62.4" height=".7" fill="#d89090"/>
<path d="M147.2 428.2 L210.9 428.2 L210.9 433.8 L209.3 435.6 L147.2 435.6 Q146 435.6 146 434.4 L146 429.4 Q146 428.2 147.2 428.2 Z" fill="#a84d4d"/>
<rect x="147" y="428.2" width="63.9" height="1.4" fill="#7a3636"/>
<path d="M208.5 428.8 L210.9 428.8 L210.9 433.8 L209.3 435.6 L208.5 435.6 Z" fill="#873c3c"/>
<rect x="147" y="451.3" width="62.4" height=".7" fill="#d89090"/>
<path d="M147.2 444 L210.9 444 L210.9 449.6 L209.3 451.4 L147.2 451.4 Q146 451.4 146 450.2 L146 445.2 Q146 444 147.2 444 Z" fill="#a84d4d"/>
<rect x="147" y="444" width="63.9" height="1.4" fill="#7a3636"/>
<path d="M208.5 444.6 L210.9 444.6 L210.9 449.6 L209.3 451.4 L208.5 451.4 Z" fill="#873c3c"/>
<rect x="147" y="467.2" width="62.4" height=".7" fill="#d89090"/>
<path d="M147.2 459.9 L210.9 459.9 L210.9 465.5 L209.3 467.3 L147.2 467.3 Q146 467.3 146 466.1 L146 461.1 Q146 459.9 147.2 459.9 Z" fill="#a84d4d"/>
<rect x="147" y="459.9" width="63.9" height="1.4" fill="#7a3636"/>
<path d="M208.5 460.5 L210.9 460.5 L210.9 465.5 L209.3 467.3 L208.5 467.3 Z" fill="#873c3c"/>
<rect x="147" y="483" width="62.4" height=".7" fill="#d89090"/>
<path d="M147.2 475.7 L210.9 475.7 L210.9 481.3 L209.3 483.1 L147.2 483.1 Q146 483.1 146 481.9 L146 476.9 Q146 475.7 147.2 475.7 Z" fill="#a84d4d"/>
<rect x="147" y="475.7" width="63.9" height="1.4" fill="#7a3636"/>
<path d="M208.5 476.3 L210.9 476.3 L210.9 481.3 L209.3 483.1 L208.5 483.1 Z" fill="#873c3c"/>
<rect x="147" y="498.8" width="62.4" height=".7" fill="#d89090"/>
<path d="M147.2 491.5 L210.9 491.5 L210.9 497.1 L209.3 498.9 L147.2 498.9 Q146 498.9 146 497.7 L146 492.7 Q146 491.5 147.2 491.5 Z" fill="#a84d4d"/>
<rect x="147" y="491.5" width="63.9" height="1.4" fill="#7a3636"/>
<path d="M208.5 492.1 L210.9 492.1 L210.9 497.1 L209.3 498.9 L208.5 498.9 Z" fill="#873c3c"/>
<rect x="147" y="514.6" width="62.4" height=".7" fill="#d89090"/>
<path d="M147.2 507.4 L210.9 507.4 L210.9 513 L209.3 514.8 L147.2 514.8 Q146 514.8 146 513.5 L146 508.6 Q146 507.4 147.2 507.4 Z" fill="#a84d4d"/>
<rect x="147" y="507.4" width="63.9" height="1.4" fill="#7a3636"/>
<path d="M208.5 508 L210.9 508 L210.9 513 L209.3 514.8 L208.5 514.8 Z" fill="#873c3c"/>
<rect x="147" y="530.5" width="75" height=".7" fill="#d89090"/>
<path d="M147.2 523.2 L223.5 523.2 L223.5 528.8 L221.9 530.6 L147.2 530.6 Q146 530.6 146 529.4 L146 524.4 Q146 523.2 147.2 523.2 Z" fill="#a84d4d"/>
<rect x="147" y="523.2" width="76.5" height="1.4" fill="#7a3636"/>
<path d="M221.1 523.8 L223.5 523.8 L223.5 528.8 L221.9 530.6 L221.1 530.6 Z" fill="#873c3c"/>
<rect x="147" y="546.3" width="75" height=".7" fill="#d89090"/>
<path d="M147.2 539 L223.5 539 L223.5 544.6 L221.9 546.4 L147.2 546.4 Q146 546.4 146 545.2 L146 540.2 Q146 539 147.2 539 Z" fill="#a84d4d"/>
<rect x="147" y="539" width="76.5" height="1.4" fill="#7a3636"/>
<path d="M221.1 539.6 L223.5 539.6 L223.5 544.6 L221.9 546.4 L221.1 546.4 Z" fill="#873c3c"/>
<rect x="147" y="562.1" width="75" height=".7" fill="#d89090"/>
<path d="M147.2 554.8 L223.5 554.8 L223.5 560.4 L221.9 562.2 L147.2 562.2 Q146 562.2 146 561 L146 556 Q146 554.8 147.2 554.8 Z" fill="#a84d4d"/>
<rect x="147" y="554.8" width="76.5" height="1.4" fill="#7a3636"/>
<path d="M221.1 555.4 L223.5 555.4 L223.5 560.4 L221.9 562.2 L221.1 562.2 Z" fill="#873c3c"/>
<rect x="147" y="578" width="75" height=".7" fill="#d89090"/>
<path d="M147.2 570.7 L223.5 570.7 L223.5 576.3 L221.9 578.1 L147.2 578.1 Q146 578.1 146 576.9 L146 571.9 Q146 570.7 147.2 570.7 Z" fill="#a84d4d"/>
<rect x="147" y="570.7" width="76.5" height="1.4" fill="#7a3636"/>
<path d="M221.1 571.3 L223.5 571.3 L223.5 576.3 L221.9 578.1 L221.1 578.1 Z" fill="#873c3c"/>
<rect x="147" y="593.8" width="87.6" height=".7" fill="#d89090"/>
<path d="M147.2 586.5 L236.1 586.5 L236.1 592.1 L234.5 593.9 L147.2 593.9 Q146 593.9 146 592.7 L146 587.7 Q146 586.5 147.2 586.5 Z" fill="#a84d4d"/>
<rect x="147" y="586.5" width="89.1" height="1.4" fill="#7a3636"/>
<path d="M233.7 587.1 L236.1 587.1 L236.1 592.1 L234.5 593.9 L233.7 593.9 Z" fill="#873c3c"/>
<rect x="147" y="609.6" width="87.6" height=".7" fill="#d89090"/>
<path d="M147.2 602.3 L236.1 602.3 L236.1 607.9 L234.5 609.7 L147.2 609.7 Q146 609.7 146 608.5 L146 603.5 Q146 602.3 147.2 602.3 Z" fill="#a84d4d"/>
<rect x="147" y="602.3" width="89.1" height="1.4" fill="#7a3636"/>
<path d="M233.7 602.9 L236.1 602.9 L236.1 607.9 L234.5 609.7 L233.7 609.7 Z" fill="#873c3c"/>
<rect x="147" y="625.5" width="87.6" height=".7" fill="#d89090"/>
<path d="M147.2 618.2 L236.1 618.2 L236.1 623.8 L234.5 625.6 L147.2 625.6 Q146 625.6 146 624.4 L146 619.4 Q146 618.2 147.2 618.2 Z" fill="#a84d4d"/>
<rect x="147" y="618.2" width="89.1" height="1.4" fill="#7a3636"/>
<path d="M233.7 618.8 L236.1 618.8 L236.1 623.8 L234.5 625.6 L233.7 625.6 Z" fill="#873c3c"/>
<rect x="147" y="641.3" width="100.1" height=".7" fill="#d89090"/>
<path d="M147.2 634 L248.6 634 L248.6 639.6 L247 641.4 L147.2 641.4 Q146 641.4 146 640.2 L146 635.2 Q146 634 147.2 634 Z" fill="#a84d4d"/>
<rect x="147" y="634" width="101.6" height="1.4" fill="#7a3636"/>
<path d="M246.2 634.6 L248.6 634.6 L248.6 639.6 L247 641.4 L246.2 641.4 Z" fill="#873c3c"/>
<rect x="147" y="657.1" width="150.5" height=".7" fill="#d89090"/>
<path d="M147.2 649.8 L299 649.8 L299 655.4 L297.4 657.2 L147.2 657.2 Q146 657.2 146 656 L146 651 Q146 649.8 147.2 649.8 Z" fill="#a84d4d"/>
<rect x="147" y="649.8" width="152" height="1.4" fill="#7a3636"/>
<path d="M296.6 650.4 L299 650.4 L299 655.4 L297.4 657.2 L296.6 657.2 Z" fill="#873c3c"/>
<rect x="147" y="672.9" width="150.5" height=".7" fill="#d89090"/>
<path d="M147.2 665.6 L299 665.6 L299 671.2 L297.4 673 L147.2 673 Q146 673 146 671.8 L146 666.9 Q146 665.6 147.2 665.6 Z" fill="#a84d4d"/>
<rect x="147" y="665.6" width="152" height="1.4" fill="#7a3636"/>
<path d="M296.6 666.2 L299 666.2 L299 671.2 L297.4 673 L296.6 673 Z" fill="#873c3c"/>
<rect x="147" y="688.8" width="301.4" height=".7" fill="#d89090"/>
<path d="M147.2 681.5 L449.9 681.5 L449.9 687.1 L448.3 688.9 L147.2 688.9 Q146 688.9 146 687.7 L146 682.7 Q146 681.5 147.2 681.5 Z" fill="#a84d4d"/>
<rect x="147" y="681.5" width="302.9" height="1.4" fill="#7a3636"/>
<path d="M447.5 682.1 L449.9 682.1 L449.9 687.1 L448.3 688.9 L447.5 688.9 Z" fill="#873c3c"/>
</g>
<g class="kl">
<text x="136.1" y="437.6">Insulin signaling pathway</text>
<text x="136.1" y="453.4">Neurotrophin signaling pathway</text>
<text x="136.1" y="469.3">Small cell lung cancer</text>
<text x="136.1" y="485.1">Pancreatic cancer</text>
<text x="136.1" y="500.9">Melanoma</text>
<text x="136.1" y="516.8">Acute myeloid leukemia</text>
<text x="136.1" y="532.6">Chemokine signaling pathway</text>
<text x="136.1" y="548.4">Wnt signaling pathway</text>
<text x="136.1" y="564.2">Prostate cancer</text>
<text x="136.1" y="580.1">Adherens junction</text>
<text x="136.1" y="595.9">Regulation of actin cytoskeleton</text>
<text x="136.1" y="611.7">Colorectal cancer</text>
<text x="136.1" y="627.6">mTOR signaling pathway</text>
<text x="136.1" y="643.4">Renal cell carcinoma</text>
<text x="136.1" y="659.2">MAPK signaling pathway</text>
<text x="136.1" y="675">Focal adhesion</text>
<text x="136.1" y="690.9">Pathways in cancer</text>
</g>
<g class="tk">
<text x="144.7" y="710.5">0</text>
<text x="207.6" y="710.5">5</text>
<text x="270.5" y="710.5">10</text>
<text x="333.4" y="710.5">15</text>
<text x="396.3" y="710.5">20</text>
<text x="459.2" y="710.5">25</text>
</g>
<g fill="none" stroke-linecap="butt">
<path d="M727.7 693.5 L727.7 425.7 L732.9 422.3" stroke="#a8a8a8" stroke-width="1"/>
<path d="M732.9 422.3 L732.9 688.9 L727.7 693.5" stroke="#b8b8b8" stroke-width="1"/>
<path d="M727.7 693.5 L940 693.5 L945.2 688.9" stroke="#b4b4b4" stroke-width="1.3"/>
<path d="M759.4 422.3 L759.4 688.9 L754.2 693.5" stroke="#8a8a8a" stroke-width="1"/>
<path d="M786 422.3 L786 688.9 L780.8 693.5" stroke="#8a8a8a" stroke-width="1"/>
<path d="M812.5 422.3 L812.5 688.9 L807.3 693.5" stroke="#8a8a8a" stroke-width="1"/>
<path d="M839 422.3 L839 688.9 L833.8 693.5" stroke="#8a8a8a" stroke-width="1"/>
<path d="M865.6 422.3 L865.6 688.9 L860.4 693.5" stroke="#8a8a8a" stroke-width="1"/>
<path d="M892.1 422.3 L892.1 688.9 L886.9 693.5" stroke="#8a8a8a" stroke-width="1"/>
<path d="M918.6 422.3 L918.6 688.9 L913.4 693.5" stroke="#8a8a8a" stroke-width="1"/>
<path d="M945.2 422.3 L945.2 688.9 L940 693.5" stroke="#8a8a8a" stroke-width="1"/>
<line x1="945.7" y1="422.3" x2="945.7" y2="688.9" stroke="#b0b0b0" stroke-width="2.2"/>
</g>
<g>
<rect x="729.9" y="435.6" width="116.3" height=".7" fill="#9ab0dc"/>
<path d="M730.1 428.3 L847.7 428.3 L847.7 433.9 L846.1 435.7 L730.1 435.7 Q728.9 435.7 728.9 434.5 L728.9 429.5 Q728.9 428.3 730.1 428.3 Z" fill="#5b7bbd"/>
<rect x="729.9" y="428.3" width="117.8" height="1.4" fill="#3c5a95"/>
<path d="M845.3 428.9 L847.7 428.9 L847.7 433.9 L846.1 435.7 L845.3 435.7 Z" fill="#45629c"/>
<rect x="729.9" y="451.3" width="116.3" height=".7" fill="#9ab0dc"/>
<path d="M730.1 444 L847.7 444 L847.7 449.6 L846.1 451.4 L730.1 451.4 Q728.9 451.4 728.9 450.2 L728.9 445.2 Q728.9 444 730.1 444 Z" fill="#5b7bbd"/>
<rect x="729.9" y="444" width="117.8" height="1.4" fill="#3c5a95"/>
<path d="M845.3 444.6 L847.7 444.6 L847.7 449.6 L846.1 451.4 L845.3 451.4 Z" fill="#45629c"/>
<rect x="729.9" y="467" width="116.3" height=".7" fill="#9ab0dc"/>
<path d="M730.1 459.7 L847.7 459.7 L847.7 465.3 L846.1 467.1 L730.1 467.1 Q728.9 467.1 728.9 465.9 L728.9 460.9 Q728.9 459.7 730.1 459.7 Z" fill="#5b7bbd"/>
<rect x="729.9" y="459.7" width="117.8" height="1.4" fill="#3c5a95"/>
<path d="M845.3 460.3 L847.7 460.3 L847.7 465.3 L846.1 467.1 L845.3 467.1 Z" fill="#45629c"/>
<rect x="729.9" y="482.7" width="116.3" height=".7" fill="#9ab0dc"/>
<path d="M730.1 475.4 L847.7 475.4 L847.7 481 L846.1 482.8 L730.1 482.8 Q728.9 482.8 728.9 481.6 L728.9 476.6 Q728.9 475.4 730.1 475.4 Z" fill="#5b7bbd"/>
<rect x="729.9" y="475.4" width="117.8" height="1.4" fill="#3c5a95"/>
<path d="M845.3 476 L847.7 476 L847.7 481 L846.1 482.8 L845.3 482.8 Z" fill="#45629c"/>
<rect x="729.9" y="498.4" width="116.3" height=".7" fill="#9ab0dc"/>
<path d="M730.1 491.1 L847.7 491.1 L847.7 496.7 L846.1 498.5 L730.1 498.5 Q728.9 498.5 728.9 497.3 L728.9 492.3 Q728.9 491.1 730.1 491.1 Z" fill="#5b7bbd"/>
<rect x="729.9" y="491.1" width="117.8" height="1.4" fill="#3c5a95"/>
<path d="M845.3 491.7 L847.7 491.7 L847.7 496.7 L846.1 498.5 L845.3 498.5 Z" fill="#45629c"/>
<rect x="729.9" y="514.1" width="121.6" height=".7" fill="#9ab0dc"/>
<path d="M730.1 506.9 L853 506.9 L853 512.5 L851.4 514.2 L730.1 514.2 Q728.9 514.2 728.9 513 L728.9 508.1 Q728.9 506.9 730.1 506.9 Z" fill="#5b7bbd"/>
<rect x="729.9" y="506.9" width="123.1" height="1.4" fill="#3c5a95"/>
<path d="M850.6 507.5 L853 507.5 L853 512.5 L851.4 514.2 L850.6 514.2 Z" fill="#45629c"/>
<rect x="729.9" y="529.9" width="121.6" height=".7" fill="#9ab0dc"/>
<path d="M730.1 522.6 L853 522.6 L853 528.2 L851.4 530 L730.1 530 Q728.9 530 728.9 528.8 L728.9 523.8 Q728.9 522.6 730.1 522.6 Z" fill="#5b7bbd"/>
<rect x="729.9" y="522.6" width="123.1" height="1.4" fill="#3c5a95"/>
<path d="M850.6 523.2 L853 523.2 L853 528.2 L851.4 530 L850.6 530 Z" fill="#45629c"/>
<rect x="729.9" y="545.6" width="121.6" height=".7" fill="#9ab0dc"/>
<path d="M730.1 538.3 L853 538.3 L853 543.9 L851.4 545.7 L730.1 545.7 Q728.9 545.7 728.9 544.5 L728.9 539.5 Q728.9 538.3 730.1 538.3 Z" fill="#5b7bbd"/>
<rect x="729.9" y="538.3" width="123.1" height="1.4" fill="#3c5a95"/>
<path d="M850.6 538.9 L853 538.9 L853 543.9 L851.4 545.7 L850.6 545.7 Z" fill="#45629c"/>
<rect x="729.9" y="561.3" width="126.9" height=".7" fill="#9ab0dc"/>
<path d="M730.1 554 L858.3 554 L858.3 559.6 L856.7 561.4 L730.1 561.4 Q728.9 561.4 728.9 560.2 L728.9 555.2 Q728.9 554 730.1 554 Z" fill="#5b7bbd"/>
<rect x="729.9" y="554" width="128.4" height="1.4" fill="#3c5a95"/>
<path d="M855.9 554.6 L858.3 554.6 L858.3 559.6 L856.7 561.4 L855.9 561.4 Z" fill="#45629c"/>
<rect x="729.9" y="577" width="132.2" height=".7" fill="#9ab0dc"/>
<path d="M730.1 569.7 L863.6 569.7 L863.6 575.3 L862 577.1 L730.1 577.1 Q728.9 577.1 728.9 575.9 L728.9 570.9 Q728.9 569.7 730.1 569.7 Z" fill="#5b7bbd"/>
<rect x="729.9" y="569.7" width="133.7" height="1.4" fill="#3c5a95"/>
<path d="M861.2 570.3 L863.6 570.3 L863.6 575.3 L862 577.1 L861.2 577.1 Z" fill="#45629c"/>
<rect x="729.9" y="592.7" width="148.1" height=".7" fill="#9ab0dc"/>
<path d="M730.1 585.4 L879.5 585.4 L879.5 591 L877.9 592.8 L730.1 592.8 Q728.9 592.8 728.9 591.6 L728.9 586.6 Q728.9 585.4 730.1 585.4 Z" fill="#5b7bbd"/>
<rect x="729.9" y="585.4" width="149.6" height="1.4" fill="#3c5a95"/>
<path d="M877.1 586 L879.5 586 L879.5 591 L877.9 592.8 L877.1 592.8 Z" fill="#45629c"/>
<rect x="729.9" y="608.4" width="148.1" height=".7" fill="#9ab0dc"/>
<path d="M730.1 601.1 L879.5 601.1 L879.5 606.7 L877.9 608.5 L730.1 608.5 Q728.9 608.5 728.9 607.3 L728.9 602.3 Q728.9 601.1 730.1 601.1 Z" fill="#5b7bbd"/>
<rect x="729.9" y="601.1" width="149.6" height="1.4" fill="#3c5a95"/>
<path d="M877.1 601.7 L879.5 601.7 L879.5 606.7 L877.9 608.5 L877.1 608.5 Z" fill="#45629c"/>
<rect x="729.9" y="624.1" width="148.1" height=".7" fill="#9ab0dc"/>
<path d="M730.1 616.8 L879.5 616.8 L879.5 622.4 L877.9 624.2 L730.1 624.2 Q728.9 624.2 728.9 623 L728.9 618 Q728.9 616.8 730.1 616.8 Z" fill="#5b7bbd"/>
<rect x="729.9" y="616.8" width="149.6" height="1.4" fill="#3c5a95"/>
<path d="M877.1 617.4 L879.5 617.4 L879.5 622.4 L877.9 624.2 L877.1 624.2 Z" fill="#45629c"/>
<rect x="729.9" y="639.8" width="158.7" height=".7" fill="#9ab0dc"/>
<path d="M730.1 632.5 L890.1 632.5 L890.1 638.1 L888.5 639.9 L730.1 639.9 Q728.9 639.9 728.9 638.7 L728.9 633.7 Q728.9 632.5 730.1 632.5 Z" fill="#5b7bbd"/>
<rect x="729.9" y="632.5" width="160.2" height="1.4" fill="#3c5a95"/>
<path d="M887.7 633.1 L890.1 633.1 L890.1 638.1 L888.5 639.9 L887.7 639.9 Z" fill="#45629c"/>
<rect x="729.9" y="655.5" width="164" height=".7" fill="#9ab0dc"/>
<path d="M730.1 648.2 L895.4 648.2 L895.4 653.8 L893.8 655.6 L730.1 655.6 Q728.9 655.6 728.9 654.4 L728.9 649.4 Q728.9 648.2 730.1 648.2 Z" fill="#5b7bbd"/>
<rect x="729.9" y="648.2" width="165.5" height="1.4" fill="#3c5a95"/>
<path d="M893 648.8 L895.4 648.8 L895.4 653.8 L893.8 655.6 L893 655.6 Z" fill="#45629c"/>
<rect x="729.9" y="671.2" width="164" height=".7" fill="#9ab0dc"/>
<path d="M730.1 664 L895.4 664 L895.4 669.6 L893.8 671.4 L730.1 671.4 Q728.9 671.4 728.9 670.1 L728.9 665.2 Q728.9 664 730.1 664 Z" fill="#5b7bbd"/>
<rect x="729.9" y="664" width="165.5" height="1.4" fill="#3c5a95"/>
<path d="M893 664.6 L895.4 664.6 L895.4 669.6 L893.8 671.4 L893 671.4 Z" fill="#45629c"/>
<rect x="729.9" y="687" width="195.9" height=".7" fill="#9ab0dc"/>
<path d="M730.1 679.7 L927.3 679.7 L927.3 685.3 L925.7 687.1 L730.1 687.1 Q728.9 687.1 728.9 685.9 L728.9 680.9 Q728.9 679.7 730.1 679.7 Z" fill="#5b7bbd"/>
<rect x="729.9" y="679.7" width="197.4" height="1.4" fill="#3c5a95"/>
<path d="M924.9 680.3 L927.3 680.3 L927.3 685.3 L925.7 687.1 L924.9 687.1 Z" fill="#45629c"/>
</g>
<g class="gl">
<text x="719.4" y="437.7">cell surface receptor linked signal transduction</text>
<text x="719.4" y="453.4">regulation of cell proliferation</text>
<text x="719.4" y="469.1">positive regulation of macromolecule biosynthetic process</text>
<text x="725" y="484.8">positive regulation of nucleobase, nucleoside, nucleotide...</text>
<text x="719.4" y="500.5">positive regulation of gene expression</text>
<text x="719.4" y="516.2">transcription</text>
<text x="719.4" y="532">positive regulation of cellular biosynthetic process</text>
<text x="719.4" y="547.7">positive regulation of nitrogen compound metabolic process</text>
<text x="719.4" y="563.4">positive regulation of biosynthetic process</text>
<text x="725" y="579.1">regulation of transcription from RNA polymerase II...</text>
<text x="719.4" y="594.8">regulation of RNA metabolic process</text>
<text x="719.4" y="610.5">regulation of transcription, DNA-dependent</text>
<text x="719.4" y="626.2">positive regulation of macromolecule metabolic process</text>
<text x="719.4" y="641.9">regulation of apoptosis</text>
<text x="719.4" y="657.6">regulation of cell death</text>
<text x="719.4" y="673.4">regulation of programmed cell death</text>
<text x="719.4" y="689.1">regulation of transcription</text>
</g>
<g class="tk">
<text x="727.6" y="708.4">0</text>
<text x="754.1" y="708.4">5</text>
<text x="780.7" y="708.4">10</text>
<text x="807.2" y="708.4">15</text>
<text x="833.7" y="708.4">20</text>
<text x="860.3" y="708.4">25</text>
<text x="886.8" y="708.4">30</text>
<text x="913.3" y="708.4">35</text>
<text x="939.9" y="708.4">40</text>
</g>
<text x="165.5" y="403" font-size="14" font-weight="bold" fill="#000" textLength="158.5" lengthAdjust="spacingAndGlyphs">KEGG pathway analysis</text>
<text x="646" y="401.5" font-size="14" font-weight="bold" fill="#000" textLength="160" lengthAdjust="spacingAndGlyphs">GO enrichment analysis</text>
<g class="cap">
<text x="11.8" y="745.8" textLength="39.6" lengthAdjust="spacingAndGlyphs"><tspan font-weight="bold">Figure</tspan></text>
<text x="53.9" y="745.8" textLength="8.7" lengthAdjust="spacingAndGlyphs"><tspan font-weight="bold">3</tspan></text>
<text x="67.6" y="745.8" textLength="79.1" lengthAdjust="spacingAndGlyphs">Bioinformatics</text>
<text x="149.2" y="745.8" textLength="45.2" lengthAdjust="spacingAndGlyphs">analyses</text>
<text x="198.1" y="745.8" textLength="10.5" lengthAdjust="spacingAndGlyphs">of</text>
<text x="212.4" y="745.8" textLength="61.7" lengthAdjust="spacingAndGlyphs">Circ-CDYL</text>
<text x="277.8" y="745.8" textLength="19.8" lengthAdjust="spacingAndGlyphs">and</text>
<text x="302" y="745.8" textLength="48.3" lengthAdjust="spacingAndGlyphs">miRNAs,</text>
<text x="354.7" y="745.8" textLength="49.3" lengthAdjust="spacingAndGlyphs">lncRNAs</text>
<text x="407.1" y="745.8" textLength="19.2" lengthAdjust="spacingAndGlyphs">and</text>
<text x="430.7" y="745.8" textLength="46.4" lengthAdjust="spacingAndGlyphs">mRNAs.</text>
<text x="481.9" y="745.8" textLength="18.6" lengthAdjust="spacingAndGlyphs">(<tspan font-weight="bold">A</tspan>)</text>
<text x="504.8" y="745.8" textLength="43.4" lengthAdjust="spacingAndGlyphs">Relative</text>
<text x="551.9" y="745.8" textLength="40.9" lengthAdjust="spacingAndGlyphs">miRNA</text>
<text x="597.2" y="745.8" textLength="49.9" lengthAdjust="spacingAndGlyphs">response</text>
<text x="650.8" y="745.8" textLength="52.1" lengthAdjust="spacingAndGlyphs">elements.</text>
<text x="707.2" y="745.8" textLength="38.2" lengthAdjust="spacingAndGlyphs">Darker</text>
<text x="749.8" y="745.8" textLength="28.5" lengthAdjust="spacingAndGlyphs">color</text>
<text x="783.9" y="745.8" textLength="58.6" lengthAdjust="spacingAndGlyphs">represents</text>
<text x="845.6" y="745.8" textLength="45.8" lengthAdjust="spacingAndGlyphs">stronger</text>
<text x="895.8" y="745.8" textLength="54.5" lengthAdjust="spacingAndGlyphs">relevance.</text>
<text x="11.8" y="763" textLength="17.3" lengthAdjust="spacingAndGlyphs">(<tspan font-weight="bold">B</tspan>)</text>
<text x="33.5" y="763" textLength="185.7" lengthAdjust="spacingAndGlyphs">CircRNA-miRNA-mRNA/lncRNA</text>
<text x="223.5" y="763" textLength="76.6" lengthAdjust="spacingAndGlyphs">co-expression</text>
<text x="305.1" y="763" textLength="48.3" lengthAdjust="spacingAndGlyphs">network.</text>
<text x="357.8" y="763" textLength="21.4" lengthAdjust="spacingAndGlyphs">The</text>
<text x="383.6" y="763" textLength="20.4" lengthAdjust="spacingAndGlyphs">red,</text>
<text x="408.4" y="763" textLength="40.9" lengthAdjust="spacingAndGlyphs">orange,</text>
<text x="453.6" y="763" textLength="26" lengthAdjust="spacingAndGlyphs">pink,</text>
<text x="483.7" y="763" textLength="19.2" lengthAdjust="spacingAndGlyphs">and</text>
<text x="506.7" y="763" textLength="35.3" lengthAdjust="spacingAndGlyphs">yellow</text>
<text x="547" y="763" textLength="32.2" lengthAdjust="spacingAndGlyphs">nodes</text>
<text x="582.9" y="763" textLength="53.7" lengthAdjust="spacingAndGlyphs">represent</text>
<text x="640.3" y="763" textLength="50.2" lengthAdjust="spacingAndGlyphs">circRNA,</text>
<text x="694.9" y="763" textLength="43.7" lengthAdjust="spacingAndGlyphs">miRNA,</text>
<text x="743" y="763" textLength="45.2" lengthAdjust="spacingAndGlyphs">lncRNA,</text>
<text x="792.5" y="763" textLength="19.2" lengthAdjust="spacingAndGlyphs">and</text>
<text x="816.7" y="763" textLength="40.7" lengthAdjust="spacingAndGlyphs">mRNA,</text>
<text x="861.7" y="763" textLength="65.7" lengthAdjust="spacingAndGlyphs">respectively.</text>
<text x="931.8" y="763" textLength="18.5" lengthAdjust="spacingAndGlyphs">(<tspan font-weight="bold">C</tspan>)</text>
<text x="11.8" y="780.7" textLength="34.7" lengthAdjust="spacingAndGlyphs">KEGG</text>
<text x="51.5" y="780.7" textLength="43.7" lengthAdjust="spacingAndGlyphs">pathway</text>
<text x="100.1" y="780.7" textLength="41" lengthAdjust="spacingAndGlyphs">analysis</text>
<text x="145.4" y="780.7" textLength="18.6" lengthAdjust="spacingAndGlyphs">and</text>
<text x="169.6" y="780.7" textLength="21.1" lengthAdjust="spacingAndGlyphs">GO</text>
<text x="195" y="780.7" textLength="57.4" lengthAdjust="spacingAndGlyphs">enrichment</text>
<text x="258" y="780.7" textLength="44" lengthAdjust="spacingAndGlyphs">analysis</text>
<text x="307" y="780.7" textLength="10.5" lengthAdjust="spacingAndGlyphs">of</text>
<text x="321.8" y="780.7" textLength="39.4" lengthAdjust="spacingAndGlyphs">related</text>
<text x="365" y="780.7" textLength="46.4" lengthAdjust="spacingAndGlyphs">mRNAs.</text>
<text x="414.6" y="780.7" textLength="39" lengthAdjust="spacingAndGlyphs">MAPK:</text>
<text x="457.4" y="780.7" textLength="50.5" lengthAdjust="spacingAndGlyphs">mitogen-</text>
<text x="511" y="780.7" textLength="47.7" lengthAdjust="spacingAndGlyphs">activated</text>
<text x="563.7" y="780.7" textLength="39.4" lengthAdjust="spacingAndGlyphs">protein</text>
<text x="608.7" y="780.7" textLength="33.4" lengthAdjust="spacingAndGlyphs">kinase</text>
</g>
</svg></body></html>
